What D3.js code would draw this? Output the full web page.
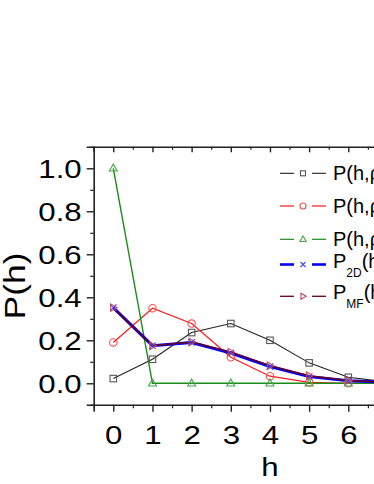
<!DOCTYPE html>
<html><head><meta charset="utf-8">
<script src="https://cdn.jsdelivr.net/npm/d3@7"></script>
<style>body{margin:0;background:#fff;overflow:hidden}svg{display:block}text{font-family:"Liberation Sans",Arial,sans-serif}</style>
</head><body><svg id="c" width="374" height="484"></svg>
<script>
const h = [0,1,2,3,4,5,6,7,8,9,10];
const pRho1 = [0.022,0.112,0.236,0.278,0.200,0.095,0.028,0.006,0.001,0,0];
const pRho2 = [0.190,0.349,0.278,0.121,0.033,0.004,0.000,0,0,0,0];
const pRho3 = [1.000,0,0,0,0,0,0,0,0,0,0];
const p2D   = [0.352,0.175,0.190,0.141,0.078,0.031,0.012,0.004,0.001,0,0];
const pMF   = [0.352,0.175,0.192,0.145,0.082,0.035,0.013,0.004,0.001,0,0];
const xTicks = [0,1,2,3,4,5,6];
const yTicks = [0.0,0.2,0.4,0.6,0.8,1.0];
const legendLabels = [["P(h,ρ=0.5)",""],["P(h,ρ=0.1)",""],["P(h,ρ=0)",""],["P","2D","(h)"],["P","MF","(h)"]];

const svg = d3.select("#c");
const x = d3.scaleLinear().domain([-0.5,10.5]).range([93.7, 93.7+11*39.17]);
const y = d3.scaleLinear().domain([-0.1,1.1]).range([404.8,146.8]);

const axisCol = "#222";
const g = svg.append("g");
// bottom axis
const xb = d3.axisBottom(x).tickValues(xTicks).tickSize(7).tickPadding(6).tickFormat(d3.format("d"));
const gxb = g.append("g").attr("transform",`translate(0,${y(-0.1)})`).call(xb);
gxb.select(".domain").attr("stroke",axisCol).attr("stroke-width",1.6);
gxb.selectAll(".tick line").attr("stroke",axisCol).attr("stroke-width",1.4);
gxb.selectAll(".tick text").attr("font-size",26).attr("fill","#000").attr("dy","1.0em").classed("wide",true);
const xbm = d3.axisBottom(x).tickValues(d3.range(-0.5,10.6,1)).tickSize(3.5).tickFormat("");
const gxbm = g.append("g").attr("transform",`translate(0,${y(-0.1)})`).call(xbm);
gxbm.select(".domain").remove();
gxbm.selectAll(".tick line").attr("stroke",axisCol).attr("stroke-width",1.2);
// top axis (inward ticks)
const xt = d3.axisBottom(x).tickValues(d3.range(0,11,1)).tickSize(5.5).tickFormat("");
const gxt = g.append("g").attr("transform",`translate(0,${y(1.1)})`).call(xt);
gxt.select(".domain").attr("stroke",axisCol).attr("stroke-width",1.6);
gxt.selectAll(".tick line").attr("stroke",axisCol).attr("stroke-width",1.4);
const xtm = d3.axisBottom(x).tickValues(d3.range(-0.5,10.6,1)).tickSize(3).tickFormat("");
const gxtm = g.append("g").attr("transform",`translate(0,${y(1.1)})`).call(xtm);
gxtm.select(".domain").remove();
gxtm.selectAll(".tick line").attr("stroke",axisCol).attr("stroke-width",1.2);
// left axis
const yl = d3.axisLeft(y).tickValues(yTicks).tickSize(7).tickPadding(5).tickFormat(d3.format(".1f"));
const gyl = g.append("g").attr("transform",`translate(${x(-0.5)},0)`).call(yl);
gyl.select(".domain").attr("stroke",axisCol).attr("stroke-width",1.6);
gyl.selectAll(".tick line").attr("stroke",axisCol).attr("stroke-width",1.4);
gyl.selectAll(".tick text").attr("font-size",26).attr("fill","#000").attr("dy","0.36em").classed("wide",true);
const ylm = d3.axisLeft(y).tickValues([-0.1,0.1,0.3,0.5,0.7,0.9,1.1]).tickSize(3.5).tickFormat("");
const gylm = g.append("g").attr("transform",`translate(${x(-0.5)},0)`).call(ylm);
gylm.select(".domain").remove();
gylm.selectAll(".tick line").attr("stroke",axisCol).attr("stroke-width",1.2);

// titles
svg.append("text").attr("x",270).attr("y",476).attr("text-anchor","middle").attr("font-size",26).classed("wide",true).text("h");
svg.append("text").attr("transform","translate(25,286) rotate(-90)").attr("text-anchor","middle").attr("font-size",29).classed("wide",true).text("P(h)");

const line = d3.line().x((d,i)=>x(h[i])).y(d=>y(d));
const plot = svg.append("g");
function series(vals, col, w){
  plot.append("path").datum(vals).attr("d",line).attr("fill","none").attr("stroke",col).attr("stroke-width",w);
}
function sq(p,cx,cy,s,col){ return p.append("rect").attr("x",cx-s/2).attr("y",cy-s/2).attr("width",s).attr("height",s).attr("fill","none").attr("stroke",col).attr("stroke-width",1.1); }
function circ(p,cx,cy,r,col){ return p.append("circle").attr("cx",cx).attr("cy",cy).attr("r",r).attr("fill","none").attr("stroke",col).attr("stroke-width",1.1); }
function tri(p,cx,cy,s,col){ const hh=s*0.866; return p.append("path").attr("d",`M${cx},${cy-hh*0.6}L${cx+s/2},${cy+hh*0.4}L${cx-s/2},${cy+hh*0.4}Z`).attr("fill","none").attr("stroke",col).attr("stroke-width",1.1); }
function triR(p,cx,cy,s,col){ const hh=s*0.866; return p.append("path").attr("d",`M${cx+hh*0.6},${cy}L${cx-hh*0.4},${cy-s/2}L${cx-hh*0.4},${cy+s/2}Z`).attr("fill","none").attr("stroke",col).attr("stroke-width",1.1); }
function cross(p,cx,cy,s,col){ const a=s/2; return p.append("path").attr("d",`M${cx-a},${cy-a}L${cx+a},${cy+a}M${cx-a},${cy+a}L${cx+a},${cy-a}`).attr("fill","none").attr("stroke",col).attr("stroke-width",1.1); }

series(pRho1,"#222",1.1);
series(pRho2,"#ff1a1a",1.2);
series(pRho3,"#1a8c1a",1.4);
series(p2D,"#0000ff",3);
series(pMF,"#6a0018",1.5);

pRho1.forEach((v,i)=>{ sq(plot,x(h[i]),y(v),6.5,"#555"); });
pRho2.forEach((v,i)=>{ circ(plot,x(h[i]),y(v),3.7,"#ff4d4d"); });
pRho3.forEach((v,i)=>{ tri(plot,x(h[i]),y(v),8,"#44aa44"); });
p2D.forEach((v,i)=>{ cross(plot,x(h[i]),y(v),6.5,"#4444ff"); });
pMF.forEach((v,i)=>{ triR(plot,x(h[i]),y(v),7.5,"#c04a5a"); });

// legend
const legY = [173.3,206,239.3,264.5,296.3];
const legCols = [["#222","#555",1.1],["#ff1a1a","#ff4d4d",1.2],["#1a8c1a","#44aa44",1.2],["#0000ff","#4444ff",2.6],["#6a0018","#c04a5a",1.3]];
const lg = svg.append("g");
legendLabels.forEach((lab,i)=>{
  const ly = legY[i];
  const [lc,mc,w] = legCols[i];
  lg.append("line").attr("x1",280).attr("x2",294).attr("y1",ly).attr("y2",ly).attr("stroke",lc).attr("stroke-width",w);
  lg.append("line").attr("x1",312).attr("x2",326).attr("y1",ly).attr("y2",ly).attr("stroke",lc).attr("stroke-width",w);
  if(i===0) sq(lg,303,ly,5,mc);
  if(i===1) circ(lg,303,ly,3,mc);
  if(i===2) tri(lg,303,ly,6.5,mc);
  if(i===3) cross(lg,303,ly,5,mc);
  if(i===4) triR(lg,303,ly,6,mc);
  const t = lg.append("text").attr("x",333).attr("y",ly+ (i<3?6.5:3)).attr("font-size",20);
  if(lab.length===2){ t.text(lab[0]); }
  else {
    t.append("tspan").text(lab[0]);
    t.append("tspan").attr("font-size",12).attr("dy",9).text(lab[1]);
    t.append("tspan").attr("dy",-9).text(lab[2]);
  }
});

// widen axis texts to match reference glyph proportions (anchor is preserved by the browser)
svg.selectAll("text.wide").each(function(){
  const len = this.getComputedTextLength();
  const k = this.textContent === "P(h)" ? 1.22 : 1.2;
  d3.select(this).attr("textLength", len*k).attr("lengthAdjust","spacingAndGlyphs");
});
</script></body></html>
